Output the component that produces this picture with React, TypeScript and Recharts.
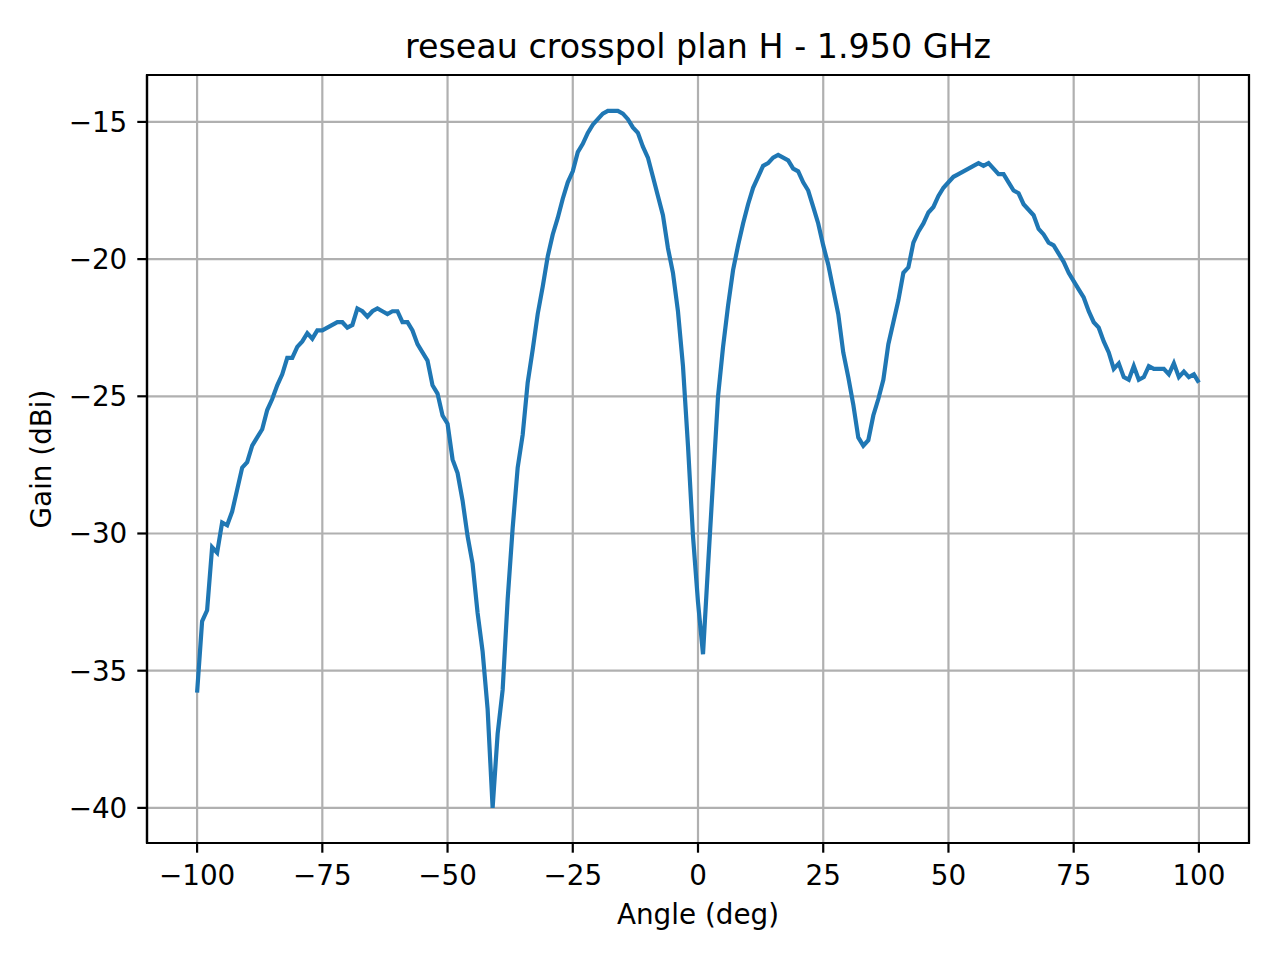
import React from 'react';
import {
  LineChart,
  Line,
  XAxis,
  YAxis,
  CartesianGrid,
  ReferenceArea,
} from 'recharts';

// Measured cross-pol pattern, H plane, 1 degree steps from -100 to +100
const ANGLE_START = -100;
const ANGLE_STEP = 1;

// -100 .. -51
const gainLeftLobe = [
  -35.8, -33.2, -32.8, -30.5, -30.7, -29.6, -29.7, -29.2, -28.4, -27.6,
  -27.4, -26.8, -26.5, -26.2, -25.5, -25.1, -24.6, -24.2, -23.6, -23.6,
  -23.2, -23.0, -22.7, -22.9, -22.6, -22.6, -22.5, -22.4, -22.3, -22.3,
  -22.5, -22.4, -21.8, -21.9, -22.1, -21.9, -21.8, -21.9, -22.0, -21.9,
  -21.9, -22.3, -22.3, -22.6, -23.1, -23.4, -23.7, -24.6, -24.9, -25.7,
];
// -50 .. -1
const gainMainLobe = [
  -26.0, -27.3, -27.8, -28.8, -30.1, -31.1, -32.9, -34.3, -36.4, -40.0,
  -37.3, -35.7, -32.4, -29.8, -27.6, -26.4, -24.5, -23.3, -22.0, -21.0,
  -19.9, -19.1, -18.5, -17.8, -17.2, -16.8, -16.1, -15.8, -15.4, -15.1,
  -14.9, -14.7, -14.6, -14.6, -14.6, -14.7, -14.9, -15.2, -15.4, -15.9,
  -16.3, -17.0, -17.7, -18.4, -19.6, -20.5, -21.9, -23.9, -26.8, -30.1,
];
// 0 .. 49
const gainRightLobes = [
  -32.5, -34.4, -31.2, -28.1, -25.0, -23.2, -21.7, -20.4, -19.5, -18.7,
  -18.0, -17.4, -17.0, -16.6, -16.5, -16.3, -16.2, -16.3, -16.4, -16.7,
  -16.8, -17.2, -17.5, -18.1, -18.7, -19.5, -20.2, -21.1, -22.0, -23.4,
  -24.3, -25.3, -26.5, -26.8, -26.6, -25.7, -25.1, -24.4, -23.1, -22.3,
  -21.5, -20.5, -20.3, -19.4, -19.0, -18.7, -18.3, -18.1, -17.7, -17.4,
];
// 50 .. 100
const gainFarLobe = [
  -17.2, -17.0, -16.9, -16.8, -16.7, -16.6, -16.5, -16.6, -16.5, -16.7,
  -16.9, -16.9, -17.2, -17.5, -17.6, -18.0, -18.2, -18.4, -18.9, -19.1,
  -19.4, -19.5, -19.8, -20.1, -20.5, -20.8, -21.1, -21.4, -21.9, -22.3,
  -22.5, -23.0, -23.4, -24.0, -23.8, -24.3, -24.4, -23.9, -24.4, -24.3,
  -23.9, -24.0, -24.0, -24.0, -24.2, -23.8, -24.3, -24.1, -24.3, -24.2,
  -24.5,
];

const xTicks = [-100, -75, -50, -25, 0, 25, 50, 75, 100];
const yTicks = [-40, -35, -30, -25, -20, -15];
const xDomain = [-110, 110];
const yDomain = [-41.28, -13.29];

const gains = [...gainLeftLobe, ...gainMainLobe, ...gainRightLobes, ...gainFarLobe];
const data = gains.map((gain, i) => ({ angle: ANGLE_START + i * ANGLE_STEP, gain }));

const FONT = '"DejaVu Sans", sans-serif';
const fmt = (v: number) => (v < 0 ? '\u2212' + Math.abs(v) : String(v));

export default function App() {
  return (
    <div
      style={{
        position: 'absolute',
        left: 0,
        top: 0,
        width: 1280,
        height: 960,
        background: '#fff',
      }}
    >
      <LineChart
        width={1280}
        height={960}
        data={data}
        margin={{ top: 75, right: 31, bottom: 57, left: 67 }}
      >
        <CartesianGrid stroke="#b0b0b0" strokeWidth={2.2} />
        <XAxis
          dataKey="angle"
          type="number"
          domain={xDomain}
          ticks={xTicks}
          allowDataOverflow
          height={60}
          tickFormatter={fmt}
          tickSize={9.7}
          tickMargin={13}
          axisLine={{ stroke: '#000', strokeWidth: 2.2 }}
          tickLine={{ stroke: '#000', strokeWidth: 2.2 }}
          tick={{ fill: '#000', fontSize: 27.8, fontFamily: FONT }}
        />
        <YAxis
          type="number"
          domain={yDomain}
          ticks={yTicks}
          allowDataOverflow
          width={80}
          tickFormatter={fmt}
          tickSize={9.7}
          tickMargin={10}
          axisLine={{ stroke: '#000', strokeWidth: 2.2 }}
          tickLine={{ stroke: '#000', strokeWidth: 2.2 }}
          tick={{ fill: '#000', fontSize: 27.8, fontFamily: FONT }}
        />
        <ReferenceArea
          x1={xDomain[0]}
          x2={xDomain[1]}
          y1={yDomain[0]}
          y2={yDomain[1]}
          fill="none"
          stroke="#000"
          strokeWidth={2.2}
          ifOverflow="visible"
        />
        <Line
          dataKey="gain"
          type="linear"
          stroke="#1f77b4"
          strokeWidth={4.2}
          dot={false}
          isAnimationActive={false}
        />
      </LineChart>
      <svg
        width={1280}
        height={960}
        style={{ position: 'absolute', left: 0, top: 0, pointerEvents: 'none' }}
      >
        <text x={698} y={58} textAnchor="middle" fontSize={33.3} fontFamily={FONT} fill="#000">
          reseau crosspol plan H - 1.950 GHz
        </text>
        <text x={698} y={924} textAnchor="middle" fontSize={27.8} fontFamily={FONT} fill="#000">
          Angle (deg)
        </text>
        <text
          x={51}
          y={459}
          textAnchor="middle"
          fontSize={27.8}
          fontFamily={FONT}
          fill="#000"
          transform="rotate(-90 51 459)"
        >
          Gain (dBi)
        </text>
      </svg>
    </div>
  );
}
